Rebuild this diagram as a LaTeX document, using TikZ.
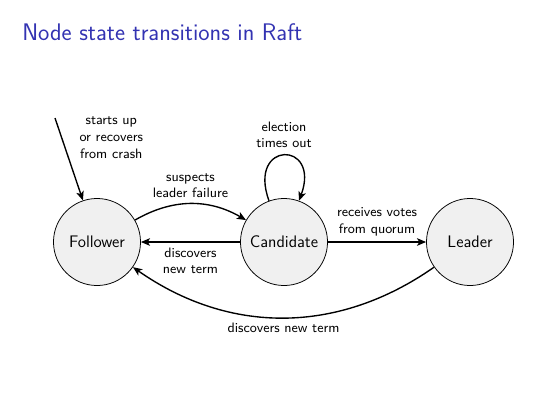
\documentclass[tikz,border=0pt]{standalone}
\usepackage{fontspec}
\usetikzlibrary{arrows.meta}
\definecolor{structblue}{rgb}{0.2,0.2,0.7}
\begin{document}
\begin{tikzpicture}[x=0.6584pt,y=-0.6584pt,
  font=\sffamily,
  state/.style={circle,draw=black,line width=0.5pt,fill=black!6,
    minimum size=57.3pt,inner sep=0pt,font=\sffamily\fontsize{11}{13}\selectfont},
  trans/.style={-{Stealth[length=6pt,width=5pt,inset=1.5pt]},line width=0.9pt},
  lbl/.style={font=\sffamily\fontsize{9}{11}\selectfont,align=center}]
\useasboundingbox (0,0) rectangle (551,409);

% frame title
\node[anchor=base west,inner sep=0pt,text=structblue,
  font=\sffamily\fontsize{15.8}{19}\selectfont] (title) at (22,40)
  {Node state transitions in Raft};

% states
\node[state] (F) at (97,242) {Follower};
\node[state] (C) at (284,242) {Candidate};
\node[state] (L) at (470,242) {Leader};
\coordinate (start) at (55,118);

% transitions
\draw[trans] (start) -- node[lbl,pos=0.24,anchor=west,xshift=8pt]
  {starts up\\or recovers\\from crash} (F);
\draw[trans] (F) to[bend left=30] node[lbl,above] {suspects\\leader failure} (C);
\draw[trans] (C) to[out=110,in=70,looseness=5.5] node[lbl,above,yshift=1pt] {election\\times out} (C);
\draw[trans] (C) -- node[lbl,above] {receives votes\\from quorum} (L);
\draw[trans] (C) -- node[lbl,below] {discovers\\new term} (F);
\draw[trans] (L) to[bend left=35] node[lbl,below] {discovers new term} (F);
\end{tikzpicture}
\end{document}
